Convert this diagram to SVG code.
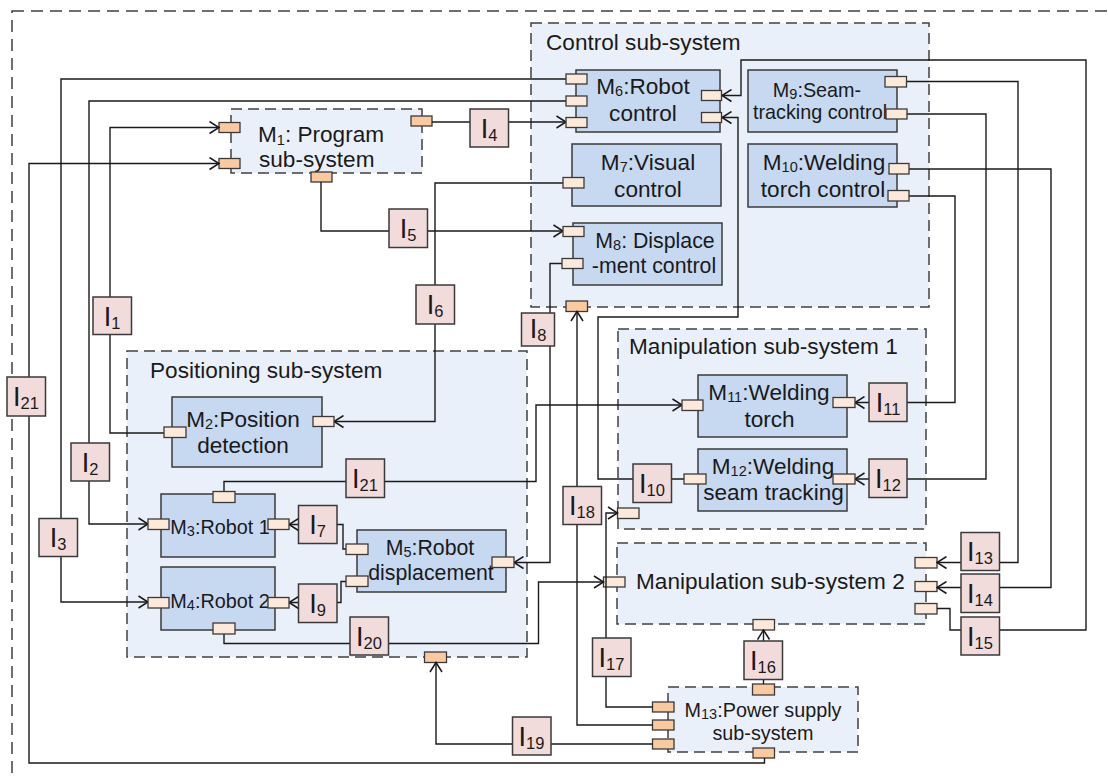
<svg xmlns="http://www.w3.org/2000/svg" width="1108" height="780" viewBox="0 0 1108 780">
<style>
.cont{fill:#EAF0FA;stroke:#404040;stroke-width:1.5;stroke-dasharray:11 6}
.mod{fill:#C6D9F1;stroke:#3a3a3a;stroke-width:1.5}
.ibox{fill:#F2DCDB;stroke:#3a3a3a;stroke-width:1.5}
.pl{fill:#FDE9D9;stroke:#3a3a3a;stroke-width:1.3}
.pd{fill:#FAC99D;stroke:#3a3a3a;stroke-width:1.3}
.ln{fill:none;stroke:#1a1a1a;stroke-width:1.4;marker-end:url(#ah)}
text{font-family:"Liberation Sans",Arial,sans-serif;fill:#1a1a1a}
.t{font-size:22.6px}
.tm{font-size:21.3px}
.ts{font-size:19.8px}
.c{text-anchor:middle}
.s{font-size:14.5px}
.il{font-size:27px;text-anchor:middle}
.is{font-size:16.5px}
</style>
<defs>
<marker id="ah" markerUnits="userSpaceOnUse" markerWidth="12" markerHeight="14" viewBox="0 0 12 14" refX="10.5" refY="7" orient="auto">
<path d="M1,1 L10.5,7 L1,13" fill="none" stroke="#1a1a1a" stroke-width="1.5"/>
</marker>
</defs>
<rect x="0" y="0" width="1108" height="780" fill="#ffffff"/>
<rect x="12" y="11" width="1120" height="800" fill="none" stroke="#404040" stroke-width="1.5" stroke-dasharray="12 7"/>

<g id="control-subsystem">
<rect class="cont" x="531" y="23" width="398" height="284"/>
<text class="t" x="546" y="50">Control sub-system</text>
<rect class="pd" x="566" y="301" width="21.5" height="10.5"/>
</g>
<g id="manipulation-subsystem-1">
<rect class="cont" x="618" y="329" width="308" height="200"/>
<text class="t" x="629" y="354">Manipulation sub-system 1</text>
<rect class="pl" x="617.5" y="508" width="21.5" height="10.5"/>
</g>
<g id="manipulation-subsystem-2">
<rect class="cont" x="617" y="543" width="309" height="81"/>
<text class="t" x="636" y="589">Manipulation sub-system 2</text>
<rect class="pl" x="603.5" y="577" width="21.5" height="10"/>
<rect class="pl" x="915" y="557.5" width="22" height="10.5"/>
<rect class="pl" x="915" y="581.5" width="22" height="10"/>
<rect class="pl" x="915" y="603.5" width="22" height="10.5"/>
<rect class="pl" x="753" y="619.5" width="21.5" height="10.5"/>
</g>
<g id="positioning-subsystem">
<rect class="cont" x="127" y="351" width="400" height="306"/>
<text class="t" x="150" y="378">Positioning sub-system</text>
<rect class="pd" x="424.5" y="652" width="22" height="10.5"/>
</g>
<g id="M1">
<rect class="cont" x="231" y="109" width="191" height="64"/>
<text class="t" x="258" y="142">M<tspan class="s" dy="3">1</tspan><tspan dy="-3">: Program</tspan></text>
<text class="t" x="259" y="167">sub-system</text>
<rect class="pd" x="219" y="122.5" width="21" height="10"/>
<rect class="pd" x="219" y="158.5" width="21" height="10"/>
<rect class="pd" x="311" y="172" width="21" height="10"/>
<rect class="pd" x="411" y="116" width="21" height="10"/>
</g>
<g id="M13">
<rect class="cont" x="668" y="687" width="190" height="65"/>
<text class="ts c" x="763" y="717">M<tspan class="s" dy="2">13</tspan><tspan dy="-2">:Power supply</tspan></text>
<text class="ts c" x="763" y="740">sub-system</text>
<rect class="pd" x="752.5" y="684" width="22" height="11"/>
<rect class="pd" x="652.5" y="702" width="21.5" height="10"/>
<rect class="pd" x="652.5" y="720" width="21.5" height="10"/>
<rect class="pd" x="652.5" y="739" width="21.5" height="10"/>
<rect class="pd" x="753" y="748" width="21.5" height="10"/>
</g>

<g id="connectors">
<path class="ln" d="M164,433 H110 V127.5 H219"/>
<path class="ln" d="M566,101 H89 V524 H148"/>
<path class="ln" d="M566,79 H61 V602 H148"/>
<path class="ln" d="M432,122 H566"/>
<path class="ln" d="M321,182 V231 H563"/>
<path class="ln" d="M563,183 H435 V421.5 H334"/>
<path class="ln" d="M346,549 H343 V524.5 H289"/>
<path class="ln" d="M562,263.5 H550 V562.5 H514"/>
<path class="ln" d="M346,581.5 H341 V602.5 H289"/>
<path class="ln" d="M684,479 H598 V317 H738 V117.5 H722"/>
<path class="ln" d="M909,196 H955 V402.5 H855"/>
<path class="ln" d="M907,114 H986 V479 H855"/>
<path class="ln" d="M907,81.5 H1018 V562.5 H937"/>
<path class="ln" d="M909,169 H1051 V587.5 H937"/>
<path class="ln" d="M937,608.5 H950 V630 H1086 V60 H741 V95.5 H722"/>
<path class="ln" d="M763.5,684 V630"/>
<path class="ln" d="M652.5,707 H606 V513 H617.5"/>
<path class="ln" d="M652.5,725 H577 V311.5"/>
<path class="ln" d="M652.5,744 H436 V662.5"/>
<path class="ln" d="M224,634 V643.5 H538.5 V582 H603.5"/>
<path class="ln" d="M764.5,758 V763 H29 V163.5 H219"/>
<path class="ln" d="M224,491.5 V481.5 H536 V405 H682"/>
</g>

<g id="M6">
<rect class="mod" x="576" y="70" width="144" height="62"/>
<text class="t c" x="643" y="94">M<tspan class="s" dy="2">6</tspan><tspan dy="-2">:Robot</tspan></text>
<text class="t c" x="643" y="121">control</text>
<rect class="pl" x="566" y="74" width="21" height="10"/>
<rect class="pl" x="566" y="96" width="21" height="10"/>
<rect class="pl" x="566" y="117.5" width="21" height="10"/>
<rect class="pl" x="701.5" y="90.5" width="20" height="10"/>
<rect class="pl" x="701.5" y="112.5" width="20" height="10"/>
</g>
<g id="M7">
<rect class="mod" x="572" y="144" width="149" height="62"/>
<text class="t c" x="648" y="170">M<tspan class="s" dy="2">7</tspan><tspan dy="-2">:Visual</tspan></text>
<text class="t c" x="648" y="197">control</text>
<rect class="pl" x="563" y="177.5" width="21" height="10.5"/>
</g>
<g id="M8">
<rect class="mod" x="573" y="223" width="149" height="62"/>
<text class="tm c" x="655" y="248">M<tspan class="s" dy="2">8</tspan><tspan dy="-2">: Displace</tspan></text>
<text class="tm c" x="654" y="273">-ment control</text>
<rect class="pl" x="563" y="226.5" width="21" height="10"/>
<rect class="pl" x="562" y="258.5" width="21" height="10"/>
</g>
<g id="M9">
<rect class="mod" x="748" y="70" width="149" height="62"/>
<text class="ts c" x="817" y="97">M<tspan class="s" dy="2">9</tspan><tspan dy="-2">:Seam-</tspan></text>
<text class="ts c" x="820" y="118.5">tracking control</text>
<rect class="pl" x="885" y="76.5" width="21.5" height="10.5"/>
<rect class="pl" x="886" y="109" width="21" height="10"/>
</g>
<g id="M10">
<rect class="mod" x="748" y="144" width="149" height="63"/>
<text class="t c" x="824" y="170">M<tspan class="s" dy="2">10</tspan><tspan dy="-2">:Welding</tspan></text>
<text class="t c" x="823" y="196.5">torch control</text>
<rect class="pl" x="889" y="163.5" width="20" height="10.5"/>
<rect class="pl" x="888" y="190.5" width="21" height="10.5"/>
</g>
<g id="M2">
<rect class="mod" x="172" y="397" width="150" height="70"/>
<text class="t c" x="243" y="426.5">M<tspan class="s" dy="2">2</tspan><tspan dy="-2">:Position</tspan></text>
<text class="t c" x="243" y="453">detection</text>
<rect class="pl" x="164" y="427" width="22" height="10.5"/>
<rect class="pl" x="313" y="416.5" width="21" height="10"/>
</g>
<g id="M3">
<rect class="mod" x="161" y="494" width="114" height="63"/>
<text class="ts c" x="220" y="534">M<tspan class="s" dy="2">3</tspan><tspan dy="-2">:Robot 1</tspan></text>
<rect class="pl" x="148" y="519" width="21" height="10.5"/>
<rect class="pl" x="268" y="519" width="21" height="10.5"/>
<rect class="pl" x="213" y="491.5" width="22" height="11"/>
</g>
<g id="M4">
<rect class="mod" x="161" y="567" width="114" height="63"/>
<text class="ts c" x="220" y="607.5">M<tspan class="s" dy="2">4</tspan><tspan dy="-2">:Robot 2</tspan></text>
<rect class="pl" x="148" y="597.5" width="21" height="10.5"/>
<rect class="pl" x="268" y="597.5" width="21" height="10.5"/>
<rect class="pl" x="213" y="623" width="22" height="11"/>
</g>
<g id="M5">
<rect class="mod" x="357" y="530" width="149" height="62"/>
<text class="tm c" x="430" y="555">M<tspan class="s" dy="2">5</tspan><tspan dy="-2">:Robot</tspan></text>
<text class="tm c" x="431" y="580">displacement</text>
<rect class="pl" x="346" y="544" width="22" height="10.5"/>
<rect class="pl" x="346" y="576" width="22" height="10.5"/>
<rect class="pl" x="492" y="557" width="22" height="10.5"/>
</g>
<g id="M11">
<rect class="mod" x="698" y="375" width="149" height="62"/>
<text class="t c" x="769" y="399.5">M<tspan class="s" dy="2">11</tspan><tspan dy="-2">:Welding</tspan></text>
<text class="t c" x="769.5" y="426.5">torch</text>
<rect class="pl" x="682" y="400" width="21" height="10.5"/>
<rect class="pl" x="833" y="397.5" width="22" height="10"/>
</g>
<g id="M12">
<rect class="mod" x="698" y="449" width="149" height="62"/>
<text class="t c" x="773" y="473.5">M<tspan class="s" dy="2">12</tspan><tspan dy="-2">:Welding</tspan></text>
<text class="t c" x="773.5" y="500">seam tracking</text>
<rect class="pl" x="684" y="474" width="22" height="10"/>
<rect class="pl" x="833" y="474" width="22" height="10"/>
</g>

<g id="I1"><rect class="ibox" x="93" y="297" width="38.5" height="37.5"/><text class="il" x="112" y="325.5">I<tspan class="is" dy="3">1</tspan></text></g>
<g id="I2"><rect class="ibox" x="71" y="443" width="38.5" height="38"/><text class="il" x="90" y="471.5">I<tspan class="is" dy="3">2</tspan></text></g>
<g id="I3"><rect class="ibox" x="39" y="518.5" width="38.5" height="38"/><text class="il" x="58" y="547">I<tspan class="is" dy="3">3</tspan></text></g>
<g id="I4"><rect class="ibox" x="470" y="109" width="38.5" height="38"/><text class="il" x="489" y="137.5">I<tspan class="is" dy="3">4</tspan></text></g>
<g id="I5"><rect class="ibox" x="389" y="209" width="38.5" height="38.5"/><text class="il" x="408" y="237.5">I<tspan class="is" dy="3">5</tspan></text></g>
<g id="I6"><rect class="ibox" x="416" y="285" width="38.5" height="39"/><text class="il" x="435" y="313.5">I<tspan class="is" dy="3">6</tspan></text></g>
<g id="I7"><rect class="ibox" x="298.5" y="505.5" width="38.5" height="38"/><text class="il" x="317.5" y="534">I<tspan class="is" dy="3">7</tspan></text></g>
<g id="I8"><rect class="ibox" x="521.5" y="313" width="33" height="33"/><text class="il" x="538" y="338">I<tspan class="is" dy="3">8</tspan></text></g>
<g id="I9"><rect class="ibox" x="298.5" y="584" width="38.5" height="38.5"/><text class="il" x="317.5" y="612.5">I<tspan class="is" dy="3">9</tspan></text></g>
<g id="I10"><rect class="ibox" x="633" y="464" width="38.5" height="38.5"/><text class="il" x="652" y="492.5">I<tspan class="is" dy="3">10</tspan></text></g>
<g id="I11"><rect class="ibox" x="869" y="383" width="38" height="38.5"/><text class="il" x="888" y="411.5">I<tspan class="is" dy="3">11</tspan></text></g>
<g id="I12"><rect class="ibox" x="869" y="459" width="38" height="38.5"/><text class="il" x="888" y="487.5">I<tspan class="is" dy="3">12</tspan></text></g>
<g id="I13"><rect class="ibox" x="961" y="532.5" width="38.5" height="38"/><text class="il" x="980" y="561">I<tspan class="is" dy="3">13</tspan></text></g>
<g id="I14"><rect class="ibox" x="961" y="574" width="38.5" height="38.5"/><text class="il" x="980" y="602.5">I<tspan class="is" dy="3">14</tspan></text></g>
<g id="I15"><rect class="ibox" x="961" y="617" width="38.5" height="38"/><text class="il" x="980" y="645.5">I<tspan class="is" dy="3">15</tspan></text></g>
<g id="I16"><rect class="ibox" x="744" y="641" width="38.5" height="38.5"/><text class="il" x="763" y="669.5">I<tspan class="is" dy="3">16</tspan></text></g>
<g id="I17"><rect class="ibox" x="592.5" y="638" width="38.5" height="38.5"/><text class="il" x="611.5" y="666.5">I<tspan class="is" dy="3">17</tspan></text></g>
<g id="I18"><rect class="ibox" x="563" y="486.5" width="38.5" height="38"/><text class="il" x="582" y="515">I<tspan class="is" dy="3">18</tspan></text></g>
<g id="I19"><rect class="ibox" x="512.5" y="717" width="38.5" height="38"/><text class="il" x="531.5" y="745.5">I<tspan class="is" dy="3">19</tspan></text></g>
<g id="I20"><rect class="ibox" x="350" y="617" width="38.5" height="38"/><text class="il" x="369" y="645.5">I<tspan class="is" dy="3">20</tspan></text></g>
<g id="I21a"><rect class="ibox" x="7" y="377" width="38.5" height="39"/><text class="il" x="26" y="406">I<tspan class="is" dy="3">21</tspan></text></g>
<g id="I21b"><rect class="ibox" x="346" y="459" width="38.5" height="38.5"/><text class="il" x="365" y="487.5">I<tspan class="is" dy="3">21</tspan></text></g>
</svg>
